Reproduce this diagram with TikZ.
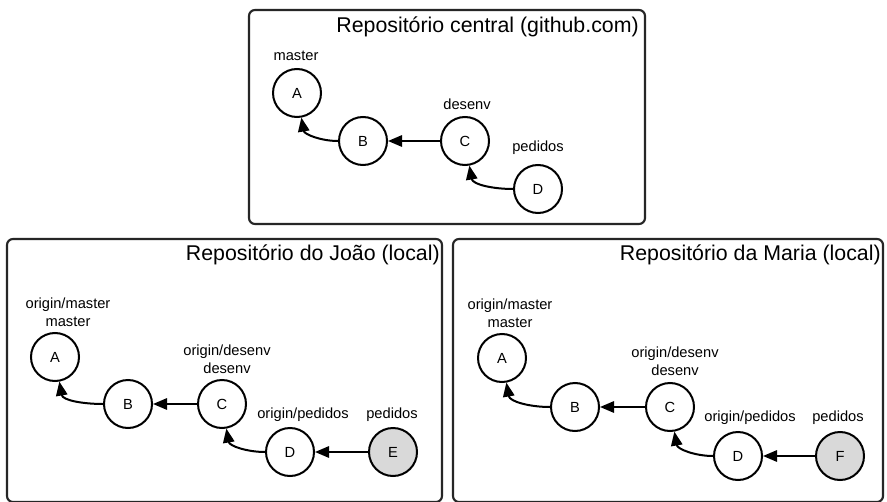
\documentclass[tikz,border=0pt]{standalone}
\usepackage{fontspec}
\setmainfont{Liberation Sans}
\usetikzlibrary{arrows.meta}
\begin{document}
\begin{tikzpicture}[x=0.75pt,y=-0.75pt,
  commit/.style={circle,draw=black,line width=1.5pt,minimum size=36pt,inner sep=0pt,fill=white,font=\fontsize{11}{13}\selectfont},
  newcommit/.style={commit,fill=black!15},
  repo/.style={draw=black!85,line width=1.6pt,rounded corners=4.5pt},
  title/.style={anchor=east,inner sep=0pt,font=\fontsize{16}{19}\selectfont},
  lbl/.style={inner sep=0pt,align=center,font=\fontsize{11}{13.5}\selectfont},
  link/.style={line width=1.5pt,-{Triangle[length=10.5pt,width=8.5pt]}}]
\useasboundingbox (0,0) rectangle (887,502);
\fill[white] (0,0) rectangle (887,502);

% ---------- central repository ----------
\draw[repo] (249,10) rectangle (645,224);
\node[title] (t1) at (639,27) {Repositório central (github.com)};
\node[commit] (cA) at (297,93) {A};
\node[commit] (cB) at (363,141) {B};
\node[commit] (cC) at (465,141) {C};
\node[commit] (cD) at (538,189) {D};
\node[lbl] (lcA) at (296,56) {master};
\node[lbl] (lcC) at (467,104) {desenv};
\node[lbl] (lcD) at (538,148) {pedidos};
\draw[link] (cB) to[out=180,in=-80] (cA);
\draw[link] (cC) -- (cB);
\draw[link] (cD) to[out=180,in=-80] (cC);

% ---------- João ----------
\draw[repo] (7,239) rectangle (442,502);
\node[title] (t2) at (440,255) {Repositório do João (local)};
\node[commit] (jA) at (55,357) {A};
\node[commit] (jB) at (128,404) {B};
\node[commit] (jC) at (222,404) {C};
\node[commit] (jD) at (290,452) {D};
\node[newcommit] (jE) at (393,452) {E};
\node[lbl] (ljA) at (68,312) {origin/master\\master};
\node[lbl] (ljC) at (227,359) {origin/desenv\\desenv};
\node[lbl] (ljD) at (303,415) {origin/pedidos};
\node[lbl] (ljE) at (392,415) {pedidos};
\draw[link] (jB) to[out=180,in=-80] (jA);
\draw[link] (jC) -- (jB);
\draw[link] (jD) to[out=180,in=-80] (jC);
\draw[link] (jE) -- (jD);

% ---------- Maria ----------
\draw[repo] (453,239) rectangle (883,502);
\node[title] (t3) at (881,255) {Repositório da Maria (local)};
\node[commit] (mA) at (502,358) {A};
\node[commit] (mB) at (575,407) {B};
\node[commit] (mC) at (670,407) {C};
\node[commit] (mD) at (738,456) {D};
\node[newcommit] (mF) at (840,456) {F};
\node[lbl] (lmA) at (510,313) {origin/master\\master};
\node[lbl] (lmC) at (675,361) {origin/desenv\\desenv};
\node[lbl] (lmD) at (750,418) {origin/pedidos};
\node[lbl] (lmF) at (838,418) {pedidos};
\draw[link] (mB) to[out=180,in=-80] (mA);
\draw[link] (mC) -- (mB);
\draw[link] (mD) to[out=180,in=-80] (mC);
\draw[link] (mF) -- (mD);
\end{tikzpicture}
\end{document}
